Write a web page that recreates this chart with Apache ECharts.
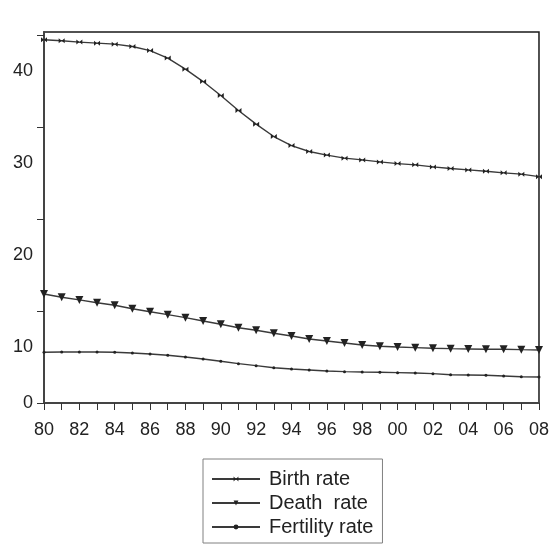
<!DOCTYPE html>
<html>
<head>
<meta charset="utf-8">
<script src="https://cdn.jsdelivr.net/npm/echarts@6/dist/echarts.min.js"></script>
<style>html,body{margin:0;padding:0;background:#fff}#c{width:552px;height:545px}</style>
</head>
<body>
<div id="c"></div>
<script>
var years = ['80','81','82','83','84','85','86','87','88','89','90','91','92','93','94','95','96','97','98','99','00','01','02','03','04','05','06','07','08'];
var birthRate = [39.5,39.4,39.25,39.14,39.03,38.77,38.33,37.51,36.31,34.96,33.44,31.81,30.33,28.98,28.0,27.35,26.96,26.63,26.44,26.22,26.04,25.9,25.68,25.5,25.35,25.21,25.03,24.89,24.62];
var deathRate = [11.86,11.5,11.21,10.91,10.63,10.25,9.93,9.61,9.28,8.92,8.56,8.19,7.91,7.58,7.29,6.96,6.75,6.53,6.31,6.17,6.09,6.02,5.95,5.91,5.88,5.84,5.84,5.8,5.77];
var fertilityRate = [5.52,5.55,5.55,5.55,5.52,5.44,5.33,5.19,5.01,4.79,4.54,4.28,4.06,3.84,3.7,3.59,3.48,3.41,3.37,3.34,3.3,3.26,3.19,3.08,3.05,3.01,2.94,2.86,2.83];
var yTicks = [0,10,20,30,40];
var seriesNames = ['Birth rate','Death  rate','Fertility rate'];

var chart = echarts.init(document.getElementById('c'), null, {renderer:'canvas'});
var font = '"Liberation Sans", Arial, sans-serif';
var lineCol = '#3a3a3a';
function mk(name, data, symbol, size, rot){
  return {
    name: name, type: 'line', data: data, smooth: false,
    symbol: symbol, symbolSize: size, symbolRotate: rot || 0, showSymbol: true,
    lineStyle: {color: lineCol, width: 1.4},
    itemStyle: {color: '#222'},
    animation: false
  };
}
chart.setOption({
  animation: false,
  backgroundColor: '#fff',
  grid: {left: 44, right: 10, top: 32, bottom: 142, show: true, borderColor: '#1a1a1a', borderWidth: 1.5, containLabel: false},
  xAxis: {
    type: 'category', data: years, boundaryGap: false,
    axisLine: {lineStyle: {color: '#444', width: 2}},
    axisTick: {show: true, interval: 0, length: 7, lineStyle: {color: '#333', width: 1}},
    axisLabel: {interval: 1, color: '#222', fontFamily: font, fontSize: 18, margin: 18},
    splitLine: {show: false}
  },
  yAxis: {
    type: 'value', min: 0, max: 40.35,
    axisLine: {show: true, lineStyle: {color: '#444', width: 2}},
    axisTick: {show: true, length: 7, customValues: yTicks, lineStyle: {color: '#333', width: 1}},
    axisLabel: {
      customValues: yTicks, color: '#222', fontFamily: font, fontSize: 18, margin: 11,
      formatter: function(v){ return v === 0 ? '{z|0}' : '{s|' + v + '}'; },
      rich: {
        z: {fontFamily: font, fontSize: 18, color: '#222'},
        s: {fontFamily: font, fontSize: 18, color: '#222', padding: [71, 0, 0, 0]}
      }
    },
    splitLine: {show: false}
  },
  legend: {
    show: true, orient: 'vertical', left: 203, top: 459,
    data: seriesNames,
    itemWidth: 48, itemHeight: 6, itemGap: 2,
    padding: [9, 9, 5, 8],
    borderColor: '#808080', borderWidth: 1,
    textStyle: {fontFamily: font, fontSize: 20, color: '#222', lineHeight: 22, padding: [0,0,0,4]}
  },
  series: [
    mk(seriesNames[0], birthRate, 'path://M0,0L10,8L10,0L0,8Z', [6,5], 0),
    mk(seriesNames[1], deathRate, 'triangle', 8, 180),
    mk(seriesNames[2], fertilityRate, 'circle', 3, 0)
  ]
});
</script>
</body>
</html>
